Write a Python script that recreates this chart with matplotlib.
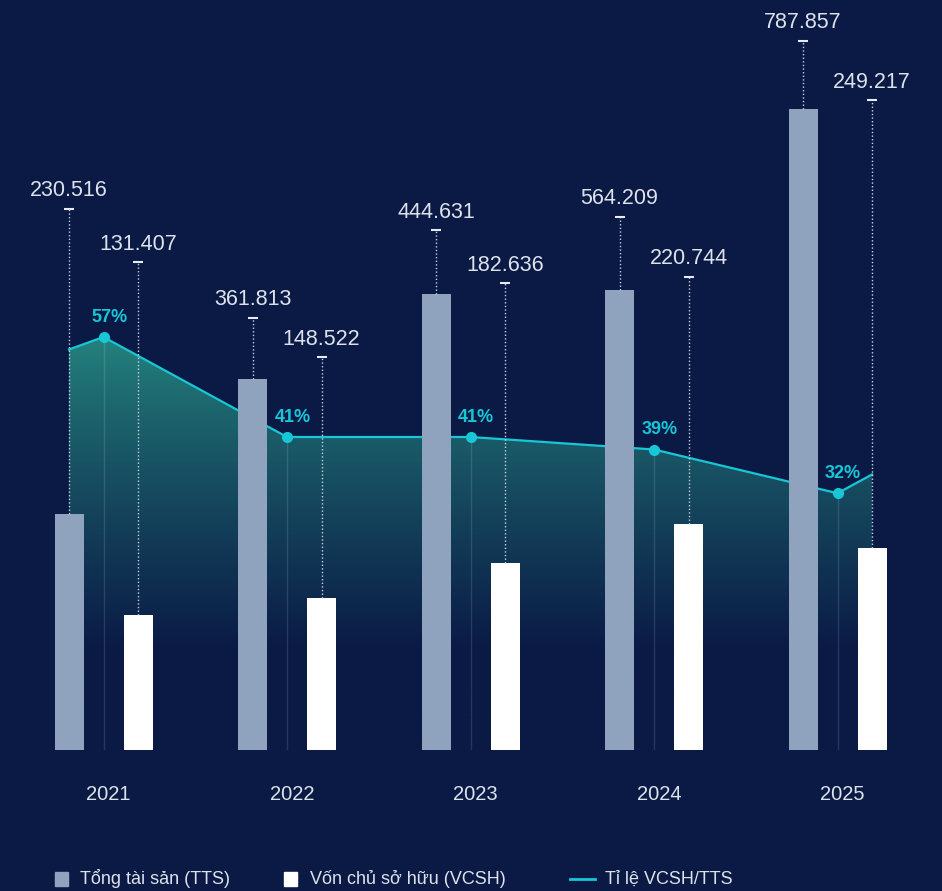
import numpy as np
import matplotlib
matplotlib.use("Agg")
import matplotlib.pyplot as plt
import matplotlib.transforms as mtransforms
from matplotlib.patches import Polygon, Rectangle
from matplotlib.lines import Line2D

plt.rcParams['font.family'] = ['Liberation Sans', 'DejaVu Sans']

# ---------------- data ----------------
years = ["2021", "2022", "2023", "2024", "2025"]
tts_labels = ["230.516", "361.813", "444.631", "564.209", "787.857"]
vcsh_labels = ["131.407", "148.522", "182.636", "220.744", "249.217"]
# bar heights as drawn in the picture
tts_heights = [230.5, 361.8, 444.6, 449.0, 625.0]
vcsh_heights = [131.4, 148.5, 182.6, 220.7, 197.0]
# height of the label marker (cap) for each bar
tts_label_level = [528, 421.5, 507, 520, 692]
vcsh_label_level = [476, 383, 455.6, 461.5, 634]
# ratio VCSH/TTS (%)
ratio = [57, 41, 41, 39, 32]
ratio_labels = ["57%", "41%", "41%", "39%", "32%"]
ratio_start, ratio_end = 55, 35   # edge values of the area line

# ---------------- style ----------------
BG = "#0a1a45"
TTS_C = "#8fa3bf"
VCSH_C = "#ffffff"
LINE_C = "#18c6d6"
TXT_C = "#dde2eb"

W, H = 942, 891
fig = plt.figure(figsize=(W / 100, H / 100), dpi=100)
fig.patch.set_facecolor(BG)

base_px = 750
rect = [0, (H - base_px) / H, 1, base_px / H]
ax_pct = fig.add_axes(rect)
ax = ax_pct.twinx()

unit = 183.5
x0px = 103.5
xlim = (-x0px / unit, (W - x0px) / unit)
k = 1.025
ax.set_xlim(*xlim)
ax_pct.set_xlim(*xlim)
ax.set_ylim(0, base_px / k)
pct_a = -56.75 / 6.25
ax_pct.set_ylim(pct_a, pct_a + base_px / 6.25)

for a in (ax, ax_pct):
    for s in a.spines.values():
        s.set_visible(False)
    a.set_yticks([])
ax_pct.set_facecolor(BG)
ax.patch.set_visible(False)

x = np.arange(len(years))
off = 34.5 / unit
bw = 29 / unit

# ---------- ratio area + line ----------
lx = np.concatenate([[x[0] - off], x, [x[-1] + off]])
ly = np.concatenate([[ratio_start], ratio, [ratio_end]])
poly_xy = np.vstack([np.column_stack([lx, ly]),
                     [[lx[-1], pct_a], [lx[0], pct_a]]])
poly = Polygon(poly_xy, closed=True, facecolor='none', edgecolor='none')
ax_pct.add_patch(poly)

top_c = np.array([36, 132, 126]) / 255
bot_c = np.array([10, 26, 69]) / 255
n = 400
ys = np.linspace(max(ly), pct_a, n)   # top to bottom
p_fade = (base_px - 650 - 56.75) / 6.25
f = np.clip((max(ly) - ys) / (max(ly) - p_fade), 0, 1)
f = f ** 0.85
cols = top_c[None, :] * (1 - f[:, None]) + bot_c[None, :] * f[:, None]
img = cols[:, None, :]
im = ax_pct.imshow(img, extent=[lx[0], lx[-1], pct_a, max(ly)],
                   aspect='auto', origin='upper', zorder=1)
im.set_clip_path(poly)

for xi, r in zip(x, ratio):
    ax_pct.plot([xi, xi], [pct_a, r], color=(1, 1, 1, 0.12), lw=1, zorder=2)

ax_pct.plot(lx, ly, color=LINE_C, lw=1.6, zorder=3, solid_joinstyle='round')
ax_pct.plot(x, ratio, 'o', color=LINE_C, ms=7, zorder=4)
for xi, r, lab in zip(x, ratio, ratio_labels):
    ax_pct.annotate(lab, (xi, r), xytext=(4, 11), textcoords='offset points',
                    ha='center', va='baseline', color=LINE_C,
                    fontsize=13, fontweight='bold', zorder=5)

# ---------- bars ----------
ax.bar(x - off, tts_heights, width=bw, color=TTS_C, zorder=3)
ax.bar(x + off, vcsh_heights, width=bw, color=VCSH_C, zorder=3)

cap_half = 5 / unit
for xs, hs, lv, labs in ((x - off, tts_heights, tts_label_level, tts_labels),
                         (x + off, vcsh_heights, vcsh_label_level, vcsh_labels)):
    for xi, h, l, lab in zip(xs, hs, lv, labs):
        ax.plot([xi, xi], [h, l], color="#c9d1e0", lw=1,
                linestyle=(0, (1, 1.6)), zorder=4)
        ax.plot([xi - cap_half, xi + cap_half], [l, l], color="#e6eaf2",
                lw=1.5, zorder=4, solid_capstyle='butt')
        ax.annotate(lab, (xi, l), xytext=(0, 9), textcoords='offset points',
                    ha='center', va='baseline', color=TXT_C, fontsize=15.5)

# ---------- year labels ----------
ax_pct.set_xticks(x)
ax_pct.set_xticklabels(years, color=TXT_C, fontsize=14.5)
ax_pct.tick_params(axis='x', length=0, pad=25)
ax.tick_params(axis='x', length=0, labelbottom=False)
shift = mtransforms.ScaledTranslation(5 / 100, 0, fig.dpi_scale_trans)
for lab in ax_pct.get_xticklabels():
    lab.set_transform(lab.get_transform() + shift)

# ---------- legend (manual) ----------
ly_px = 879
def fy(py):
    return (H - py) / H
def fx(px):
    return px / W
fig.patches.append(Rectangle((fx(55), fy(886)), 13 / W, 14 / H,
                             transform=fig.transFigure, color=TTS_C))
fig.patches.append(Rectangle((fx(284), fy(886)), 13 / W, 14 / H,
                             transform=fig.transFigure, color=VCSH_C))
fig.lines.append(Line2D([fx(570), fx(595)], [fy(ly_px), fy(ly_px)],
                        transform=fig.transFigure, color=LINE_C, lw=2))
for px, t in ((80, "Tổng tài sản (TTS)"), (310, "Vốn chủ sở hữu (VCSH)"),
              (605, "Tỉ lệ VCSH/TTS")):
    fig.text(fx(px), fy(ly_px), t, color=TXT_C, fontsize=13,
             ha='left', va='center')

fig.savefig("out.png", dpi=100, facecolor=BG)
